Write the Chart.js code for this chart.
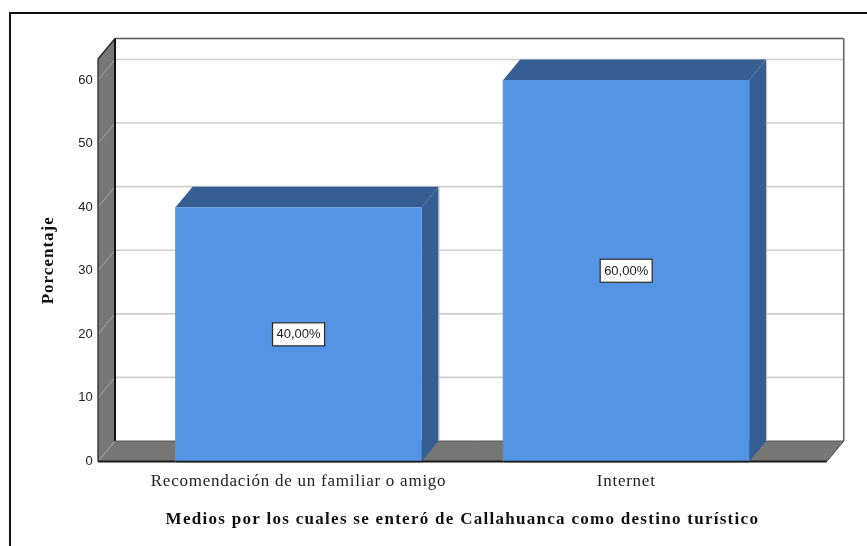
<!DOCTYPE html>
<html><head><meta charset="utf-8">
<style>html,body{margin:0;padding:0;background:#fff;overflow:hidden}canvas{display:block}</style>
<script src="https://cdn.jsdelivr.net/npm/chart.js@4/dist/chart.umd.min.js"></script>
</head><body><canvas id="c" width="867" height="546"></canvas>
<script>
const categories = ['Recomendación de un familiar o amigo', 'Internet'];
const values = [40, 60];
const valueLabels = ['40,00%', '60,00%'];
const yTicks = [0, 10, 20, 30, 40, 50, 60];
const yTitle = 'Porcentaje';
const xTitle = 'Medios por los cuales se enteró de Callahuanca como destino turístico';
const yMax = 63.3;

const DX = 17, DY = 20.5, EXT = 36.75;
const poly = (ctx, pts, fill) => { ctx.beginPath(); pts.forEach((p,i)=> i?ctx.lineTo(p[0],p[1]):ctx.moveTo(p[0],p[1])); ctx.closePath(); if(fill){ctx.fillStyle=fill;ctx.fill();} };
const seg = (ctx,x0,y0,x1,y1,col,w) => { ctx.beginPath(); ctx.moveTo(x0,y0); ctx.lineTo(x1,y1); ctx.strokeStyle=col; ctx.lineWidth=w; ctx.stroke(); };

// the reference's serif text is widely tracked: apply canvas letter spacing per axis part
function track(scale, method, spacing){
  if(scale['_tracked_'+method]) return;
  const orig = scale[method];
  scale[method] = function(...args){
    const ctx=this.ctx; ctx.letterSpacing=spacing;
    orig.apply(this,args);
    ctx.letterSpacing='0px';
  };
  scale['_tracked_'+method]=true;
}

const box3d = {
  id:'box3d',
  beforeDraw(chart){
    const ctx=chart.ctx; ctx.save();
    ctx.fillStyle='#fff'; ctx.fillRect(0,0,chart.width,chart.height);
    seg(ctx,9.5,13,867,13,'#111',2);
    seg(ctx,10,12,10,546,'#111',2);
    ctx.restore();
    track(chart.scales.x,'drawLabels','0.75px');
    track(chart.scales.x,'drawTitle','1.28px');
    track(chart.scales.y,'drawTitle','1px');
  },
  beforeDatasetsDraw(chart){
    const ctx=chart.ctx, a=chart.chartArea, y=chart.scales.y;
    const L=a.left-EXT, R=a.right+EXT, T=a.top, B=a.bottom;
    ctx.save();
    yTicks.forEach(v=>{
      const p=y.getPixelForValue(v);
      if(v>0){
        seg(ctx,L+DX,p-DY,R+DX,p-DY,'#cfcfcf',1.6);
      }
    });
    poly(ctx,[[L,T],[L+DX,T-DY],[L+DX,B-DY],[L,B]],'#777777');
    poly(ctx,[[L,B],[L+DX,B-DY],[R+DX,B-DY],[R,B]],'#777777');
    yTicks.forEach(v=>{
      const p=y.getPixelForValue(v);
      seg(ctx,L,p,L+DX,p-DY,'#a8a8a8',1);
    });
    seg(ctx,L+DX,T-DY,R+DX,T-DY,'#555',1.6);
    seg(ctx,R+DX,T-DY,R+DX,B-DY,'#666',1.6);
    seg(ctx,L+DX,T-DY,L+DX,B-DY,'#111',2);
    seg(ctx,L,T,L+DX,T-DY,'#222',1.2);
    seg(ctx,L,T,L,B,'#333',1.4);
    seg(ctx,L+DX,B-DY,R+DX,B-DY,'#555',1);
    seg(ctx,R,B,R+DX,B-DY,'#444',1);
    seg(ctx,L,B,R,B,'#1a1a1a',2);
    chart.getDatasetMeta(0).data.forEach(b=>{
      const l=b.x-b.width/2, r=b.x+b.width/2;
      poly(ctx,[[l,b.y],[l+DX,b.y-DY],[r+DX,b.y-DY],[r,b.y]],'#355E92');
      poly(ctx,[[r,b.y],[r+DX,b.y-DY],[r+DX,b.base-DY],[r,b.base]],'#355E92');
      seg(ctx,r+DX+0.5,b.y-DY,r+DX+0.5,b.base-DY,'#c4c4c4',1);
    });
    ctx.restore();
  },
  afterDatasetsDraw(chart){
    const ctx=chart.ctx;
    ctx.save();
    chart.getDatasetMeta(0).data.forEach((b,i)=>{
      const l=b.x-b.width/2, r=b.x+b.width/2;
      seg(ctx,l,b.base,r,b.base,'#1a1a1a',1.4);
      seg(ctx,l,b.y,l,b.base,'#6d8fc0',0.8);
      const cy=(b.y+b.base)/2, w=52, h=23;
      ctx.fillStyle='#fff'; ctx.fillRect(b.x-w/2,cy-h/2,w,h);
      ctx.strokeStyle='#2a2a2a'; ctx.lineWidth=1.2; ctx.strokeRect(b.x-w/2,cy-h/2,w,h);
      ctx.fillStyle='#222'; ctx.font='13px "Liberation Sans"'; ctx.textAlign='center'; ctx.textBaseline='middle';
      ctx.fillText(valueLabels[i],b.x,cy+0.5);
    });
    ctx.restore();
  }
};

new Chart(document.getElementById('c'),{
  type:'bar',
  data:{labels:categories,datasets:[{data:values,backgroundColor:'#5494E4',borderWidth:0,barPercentage:0.751,categoryPercentage:1}]},
  plugins:[box3d],
  options:{
    responsive:false,animation:false,
    layout:{padding:{left:0,right:77,top:59,bottom:0}},
    plugins:{legend:{display:false},tooltip:{enabled:false}},
    scales:{
      x:{
        type:'category',offset:true,
        grid:{display:false,drawTicks:false},border:{display:false},
        afterFit(s){s.height=84.5;},
        ticks:{color:'#222',font:{family:'"Liberation Serif"',size:17},padding:10,maxRotation:0,autoSkip:false},
        title:{display:true,text:xTitle,color:'#111',font:{family:'"Liberation Serif"',size:17,weight:'bold'},padding:{top:0,bottom:16}}
      },
      y:{
        min:0,max:yMax,
        afterBuildTicks(s){s.ticks=yTicks.map(v=>({value:v}));},
        afterFit(s){s.width=134.75;},
        grid:{display:false,drawTicks:false},border:{display:false},
        ticks:{color:'#222',font:{family:'"Liberation Sans"',size:13},padding:42},
        title:{display:true,text:yTitle,color:'#111',font:{family:'"Liberation Serif"',size:17,weight:'bold'},padding:{top:38,bottom:0}}
      }
    }
  }
});
</script></body></html>
